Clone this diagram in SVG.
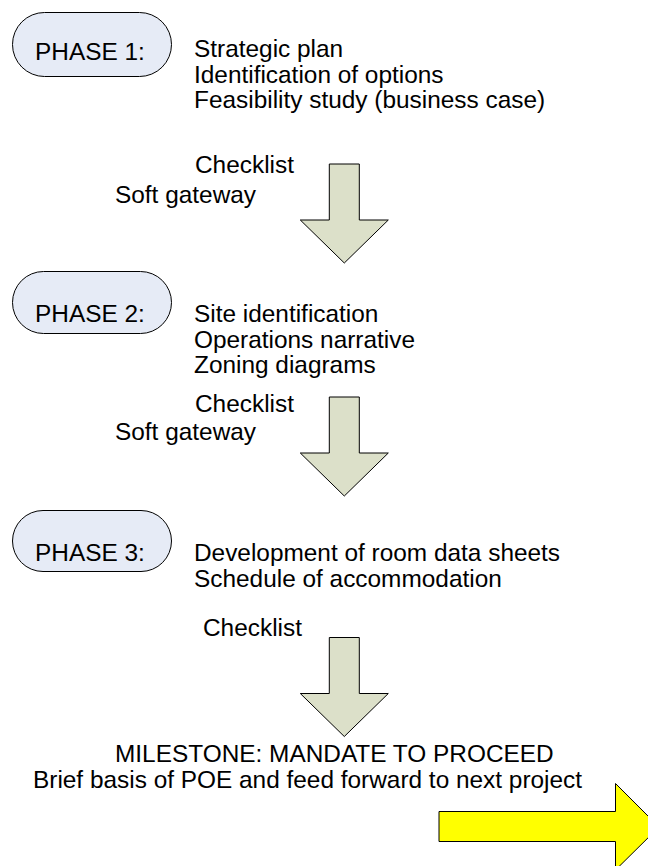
<svg xmlns="http://www.w3.org/2000/svg" width="648" height="866" viewBox="0 0 648 866">
  <defs>
    <style>
      text { font-family: "Liberation Sans", Arial, sans-serif; font-size: 24.4px; fill: #000; }
      .pill { fill: #E6EBF6; stroke: #000; stroke-width: 1; }
      .down { fill: #DCE0C9; stroke: #000; stroke-width: 1; }
      .go { fill: #FFFF00; stroke: #000; stroke-width: 1; }
    </style>
    <!-- block arrow pointing down, shaft top at origin centre -->
    <path id="downArrow" d="M -15 0 H 15 V 56 H 44 L 0 99 L -44 56 H -15 Z"/>
  </defs>
  <rect width="648" height="866" fill="#fff"/>

  <g id="phase1">
    <rect class="pill" x="12.5" y="12.5" width="159" height="64" rx="32"/>
    <text x="35" y="60">PHASE 1:</text>
    <text x="194" y="57">Strategic plan</text>
    <text x="194" y="82.5">Identification of options</text>
    <text x="194" y="108">Feasibility study (business case)</text>
  </g>

  <g id="gate1">
    <text x="195" y="173">Checklist</text>
    <text x="115" y="203">Soft gateway</text>
  </g>

  <g id="phase2">
    <rect class="pill" x="12.5" y="271.5" width="159" height="62" rx="31"/>
    <text x="35" y="321.5">PHASE 2:</text>
    <text x="194" y="322">Site identification</text>
    <text x="194" y="347.5">Operations narrative</text>
    <text x="194" y="373">Zoning diagrams</text>
  </g>

  <g id="gate2">
    <text x="195" y="412">Checklist</text>
    <text x="115" y="440">Soft gateway</text>
  </g>

  <g id="phase3">
    <rect class="pill" x="12.5" y="510.5" width="159" height="61" rx="30.5"/>
    <text x="35" y="560.5">PHASE 3:</text>
    <text x="194" y="561">Development of room data sheets</text>
    <text x="194" y="586.5">Schedule of accommodation</text>
  </g>

  <g id="gate3">
    <text x="203" y="636">Checklist</text>
  </g>

  <g id="milestone">
    <text x="115" y="761.5">MILESTONE: MANDATE TO PROCEED</text>
    <text x="33" y="788">Brief basis of POE and feed forward to next project</text>
  </g>

  <g id="connectors">
    <use href="#downArrow" class="down" transform="translate(344.3 164)"/>
    <use href="#downArrow" class="down" transform="translate(344.3 397)"/>
    <use href="#downArrow" class="down" transform="translate(344.3 637.5)"/>
    <path class="go" d="M 439 811.5 H 615.5 V 783.5 L 659 827 L 615.5 870 V 841.5 H 439 Z"/>
  </g>
</svg>
